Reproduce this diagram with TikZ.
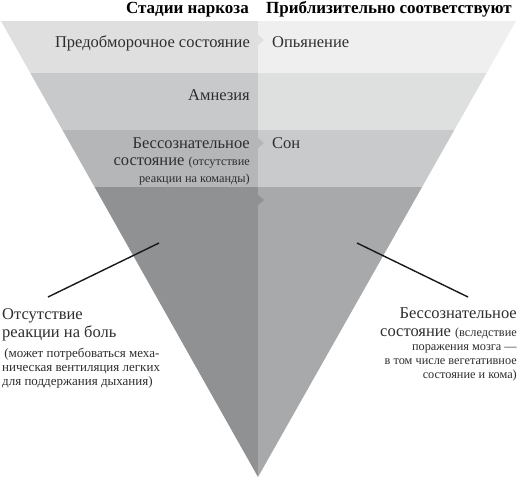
\documentclass[tikz,border=0pt]{standalone}
\usepackage{fontspec}
\setmainfont{Liberation Serif}
\definecolor{bAl}{HTML}{DFDFDF}
\definecolor{bAr}{HTML}{EFEFEF}
\definecolor{bBl}{HTML}{C8C9CB}
\definecolor{bBr}{HTML}{DEDFDF}
\definecolor{bCl}{HTML}{B4B6B8}
\definecolor{bCr}{HTML}{C8CACB}
\definecolor{bDl}{HTML}{8F9193}
\definecolor{bDr}{HTML}{A7A9AB}
\definecolor{txt}{HTML}{2E2E2E}
\newcommand{\bigf}{\fontsize{16.5}{17}\selectfont}
\newcommand{\smallf}{\fontsize{12.3}{14}\selectfont}
\newcommand{\smallL}{\fontsize{13}{14}\selectfont}
\newcommand{\headf}{\fontsize{17}{18}\selectfont\bfseries}
\newcommand{\blockR}[2]{\vtop{\baselineskip=#1\lineskiplimit=-30pt\lineskip=0pt\halign{\hfil##\cr#2\crcr}}}
\newcommand{\blockL}[2]{\vtop{\baselineskip=#1\lineskiplimit=-30pt\lineskip=0pt\halign{##\hfil\cr#2\crcr}}}
\begin{document}
\begin{tikzpicture}[x=1pt,y=-1pt,
  lbl/.style={inner sep=0pt,text=txt,font=\bigf},
  lblr/.style={lbl,anchor=base east},
  lbll/.style={lbl,anchor=base west},
  head/.style={inner sep=0pt,text=black,font=\headf},
  leader/.style={line width=1.4pt,black!90}]
\useasboundingbox (0,0) rectangle (519,480);
\fill[white] (0,0) rectangle (519,480);
\coordinate (TL) at (1,21);
\coordinate (TR) at (516,21);
\coordinate (AP) at (258,477);
\begin{scope}
  \clip (TL) -- (TR) -- (AP) -- cycle;
  \fill[bAl] (0,21) rectangle (258,73);
  \fill[bAr] (258,21) rectangle (519,73);
  \fill[bBl] (0,73) rectangle (258,130);
  \fill[bBr] (258,73) rectangle (519,130);
  \fill[bCl] (0,130) rectangle (258,187);
  \fill[bCr] (258,130) rectangle (519,187);
  \fill[bDl] (0,187) rectangle (258,480);
  \fill[bDr] (258,187) rectangle (519,480);
  \fill[bAl] (258,35) -- (264,40) -- (258,45) -- cycle;
  \fill[bCl] (258,138) -- (264,143) -- (258,148) -- cycle;
  \fill[bDl] (258,195) -- (264,200) -- (258,205) -- cycle;
\end{scope}
% headers
\node[head,anchor=base east] (h1) at (249,13) {Стадии наркоза};
\node[head,anchor=base west] (h2) at (266,13) {Приблизительно соответствуют};
% band labels
\node[lblr] (l1) at (250,47) {Предобморочное состояние};
\node[lbll] (r1) at (272,47) {Опьянение};
\node[lblr] (l2) at (250,100) {Амнезия};
\node[lblr] (l3) at (250,148) {\blockR{17pt}{Бессознательное\cr
  состояние {\smallf(отсутствие}\cr
  {\smallf реакции на команды)}\cr}};
\node[lbll] (r3) at (272,148) {Сон};
% bottom labels
\node[lbll] (l4) at (2,319) {\blockL{18pt}{Отсутствие\cr
  реакции на боль\cr\noalign{\kern2pt}
  {\smallL\,(может потребоваться меха-}\cr\noalign{\kern-4pt}
  {\smallL ническая вентиляция легких}\cr\noalign{\kern-4pt}
  {\smallL для поддержания дыхания)}\cr}};
\node[lblr] (r4) at (517,318) {\blockR{18pt}{Бессознательное\cr
  состояние {\smallf(вследствие}\cr\noalign{\kern-4pt}
  {\smallf поражения мозга —}\cr\noalign{\kern-4pt}
  {\smallf в том числе вегетативное}\cr\noalign{\kern-4pt}
  {\smallf состояние и кома)}\cr}};
% leaders
\coordinate (pl) at (159,243);
\coordinate (pr) at (357,243);
\coordinate (el) at (48,297);
\coordinate (er) at (468,297);
\draw[leader] (pl) -- (el);
\draw[leader] (pr) -- (er);
\end{tikzpicture}
\end{document}
